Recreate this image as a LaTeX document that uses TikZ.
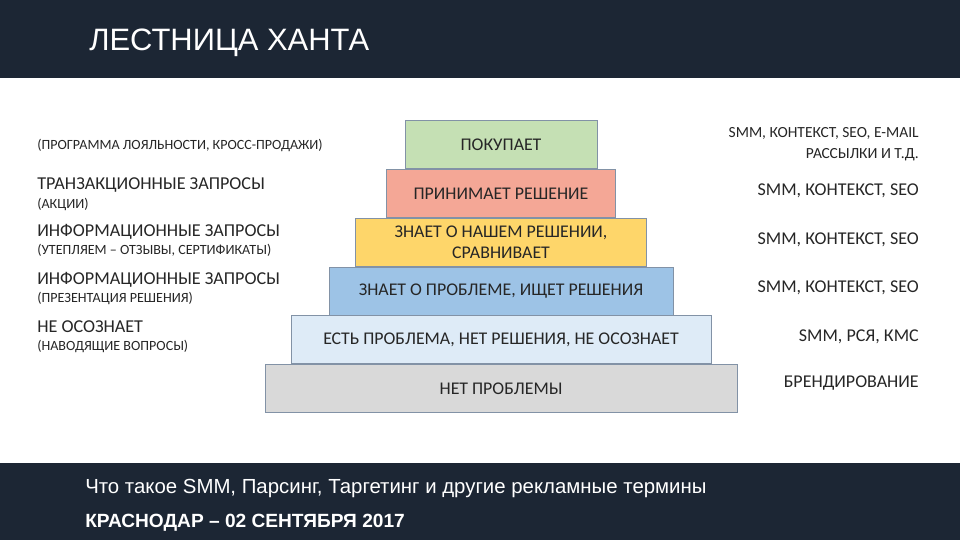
\documentclass[tikz,border=0pt]{standalone}
\usepackage{fontspec}
\setmainfont{Carlito}
\newfontfamily\headfont{Liberation Sans}
\usepackage{tikz}
\usetikzlibrary{positioning}
\definecolor{bandnavy}{RGB}{28,38,52}
\definecolor{txtgray}{RGB}{38,38,38}
\definecolor{stepline}{RGB}{130,146,166}
\definecolor{buyfill}{RGB}{197,224,180}
\definecolor{decfill}{RGB}{244,167,150}
\definecolor{cmpfill}{RGB}{254,214,106}
\definecolor{srchfill}{RGB}{157,195,230}
\definecolor{probfill}{RGB}{222,235,247}
\definecolor{nonefill}{RGB}{217,217,217}

\begin{document}
\begin{tikzpicture}[
  x=0.025cm, y=-0.025cm,
  node distance=0pt,
  stair/.style={draw=stepline, line width=0.6pt, text=txtgray, align=center, minimum height=1.2cm, inner sep=0pt, font=\fontsize{12.7}{14.5}\selectfont},
  lbig/.style={anchor=west, inner sep=0pt, text=txtgray, font=\fontsize{12.9}{15}\selectfont},
  lsmall/.style={anchor=west, inner sep=0pt, text=txtgray, font=\fontsize{10}{12}\selectfont},
  rbig/.style={anchor=east, inner sep=0pt, text=txtgray, font=\fontsize{12.8}{15}\selectfont},
  rsmall/.style={anchor=east, inner sep=0pt, text=txtgray, align=right, font=\fontsize{11}{15}\selectfont},
]
\useasboundingbox (0,0) rectangle (960,540);
\fill[white] (0,0) rectangle (960,540);
\fill[bandnavy] (0,0) rectangle (960,78);
\fill[bandnavy] (0,463) rectangle (960,540);

\node[anchor=base west, inner sep=0pt, text=white, font=\headfont\fontsize{22}{25}\selectfont] (title) at (89,50) {ЛЕСТНИЦА ХАНТА};

% ladder
\node[stair, fill=buyfill, minimum width=4.8cm, anchor=north] (s1) at (501,120) {ПОКУПАЕТ};
\node[stair, fill=decfill, minimum width=5.725cm, below=of s1] (s2) {ПРИНИМАЕТ РЕШЕНИЕ};
\node[stair, fill=cmpfill, minimum width=7.275cm, below=of s2] (s3) {ЗНАЕТ О НАШЕМ РЕШЕНИИ,\\ СРАВНИВАЕТ};
\node[stair, fill=srchfill, minimum width=8.6cm, below=of s3] (s4) {ЗНАЕТ О ПРОБЛЕМЕ, ИЩЕТ РЕШЕНИЯ};
\node[stair, fill=probfill, minimum width=10.5cm, below=of s4] (s5) {ЕСТЬ ПРОБЛЕМА, НЕТ РЕШЕНИЯ, НЕ ОСОЗНАЕТ};
\node[stair, fill=nonefill, minimum width=11.8cm, below=of s5] (s6) {НЕТ ПРОБЛЕМЫ};

% left side
\node[lsmall] (l1) at (37,145) {(ПРОГРАММА ЛОЯЛЬНОСТИ, КРОСС-ПРОДАЖИ)};
\node[lbig] (l2) at (37,185) {ТРАНЗАКЦИОННЫЕ ЗАПРОСЫ};
\node[lsmall] (l2b) at (37,204) {(АКЦИИ)};
\node[lbig] (l3) at (37,232) {ИНФОРМАЦИОННЫЕ ЗАПРОСЫ};
\node[lsmall] (l3b) at (37,250) {(УТЕПЛЯЕМ – ОТЗЫВЫ, СЕРТИФИКАТЫ)};
\node[lbig] (l4) at (37,280) {ИНФОРМАЦИОННЫЕ ЗАПРОСЫ};
\node[lsmall] (l4b) at (37,298) {(ПРЕЗЕНТАЦИЯ РЕШЕНИЯ)};
\node[lbig] (l5) at (37,327) {НЕ ОСОЗНАЕТ};
\node[lsmall] (l5b) at (37,346) {(НАВОДЯЩИЕ ВОПРОСЫ)};

% right side
\node[rsmall] (r1) at (919,144) {SMM, КОНТЕКСТ, SEO, E-MAIL\\ РАССЫЛКИ И Т.Д.};
\node[rbig] (r2) at (919,191) {SMM, КОНТЕКСТ, SEO};
\node[rbig] (r3) at (919,240) {SMM, КОНТЕКСТ, SEO};
\node[rbig] (r4) at (919,288) {SMM, КОНТЕКСТ, SEO};
\node[rbig] (r5) at (919,337) {SMM, РСЯ, КМС};
\node[rbig] (r6) at (919,383) {БРЕНДИРОВАНИЕ};

% footer
\node[anchor=base west, inner sep=0pt, text=white, font=\headfont\fontsize{14.5}{17}\selectfont] (sub) at (85,493) {Что такое SMM, Парсинг, Таргетинг и другие рекламные термины};
\node[anchor=base west, inner sep=0pt, text=white, font=\headfont\bfseries\fontsize{13.6}{16}\selectfont] (city) at (85,527) {КРАСНОДАР – 02 СЕНТЯБРЯ 2017};
\end{tikzpicture}
\end{document}
